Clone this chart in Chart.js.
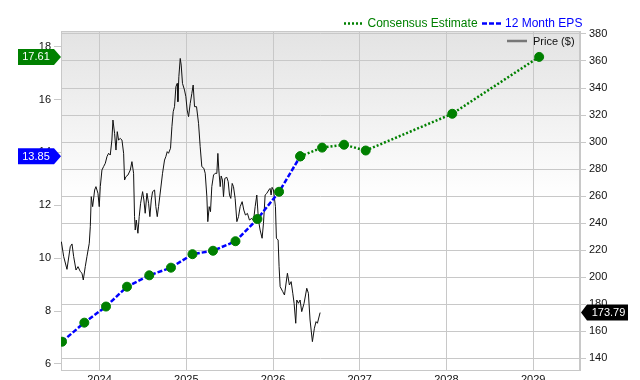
<!DOCTYPE html>
<html>
<head>
<meta charset="utf-8">
<script src="https://cdn.jsdelivr.net/npm/chart.js@4.4.1/dist/chart.umd.min.js"></script>
<style>
  html, body { margin: 0; padding: 0; background: #fff; }
  canvas { display: block; }
</style>
</head>
<body>
<canvas id="chart" width="640" height="380"></canvas>
<script>
// 12 month EPS (dates as decimal years)
const epsDates = [2023.567, 2023.824, 2024.074, 2024.316, 2024.573, 2024.823, 2025.071, 2025.308, 2025.567, 2025.820, 2026.070, 2026.314];
const epsValues = [6.84, 7.56, 8.17, 8.92, 9.35, 9.64, 10.15, 10.28, 10.64, 11.48, 12.51, 13.85];

// consensus estimate
const estDates = [2026.314, 2026.566, 2026.819, 2027.069, 2028.067, 2029.069];
const estValues = [13.85, 14.18, 14.29, 14.07, 15.46, 17.61];

// share price ($)
const priceDates = [
  2023.559, 2023.586, 2023.624, 2023.662, 2023.682, 2023.701, 2023.728, 2023.751, 2023.778, 2023.797,
  2023.812, 2023.835, 2023.854, 2023.881, 2023.893, 2023.904, 2023.920, 2023.943, 2023.958, 2023.981,
  2023.996, 2024.008, 2024.027, 2024.046, 2024.066, 2024.085, 2024.104, 2024.123, 2024.142, 2024.154,
  2024.173, 2024.189, 2024.204, 2024.219, 2024.238, 2024.258, 2024.277, 2024.288, 2024.304, 2024.327,
  2024.354, 2024.373, 2024.392, 2024.403, 2024.411, 2024.423, 2024.442, 2024.457, 2024.473, 2024.496,
  2024.511, 2024.526, 2024.546, 2024.565, 2024.580, 2024.596, 2024.611, 2024.634, 2024.649, 2024.665,
  2024.680, 2024.703, 2024.726, 2024.749, 2024.764, 2024.780, 2024.795, 2024.818, 2024.834, 2024.849,
  2024.864, 2024.880, 2024.895, 2024.903, 2024.914, 2024.930, 2024.941, 2024.956, 2024.979, 2024.995,
  2025.010, 2025.026, 2025.045, 2025.064, 2025.079, 2025.095, 2025.118, 2025.141, 2025.160, 2025.179,
  2025.202, 2025.218, 2025.237, 2025.248, 2025.264, 2025.279, 2025.294, 2025.314, 2025.333, 2025.352,
  2025.364, 2025.375, 2025.391, 2025.402, 2025.417, 2025.429, 2025.444, 2025.467, 2025.483, 2025.498,
  2025.513, 2025.529, 2025.544, 2025.563, 2025.583, 2025.602, 2025.621, 2025.644, 2025.663, 2025.682,
  2025.705, 2025.728, 2025.755, 2025.775, 2025.794, 2025.813, 2025.832, 2025.851, 2025.874, 2025.890,
  2025.909, 2025.928, 2025.951, 2025.966, 2025.978, 2025.989, 2026.005, 2026.028, 2026.039, 2026.059,
  2026.070, 2026.082, 2026.112, 2026.132, 2026.166, 2026.189, 2026.209, 2026.228, 2026.243, 2026.262,
  2026.274, 2026.293, 2026.312, 2026.331, 2026.358, 2026.389, 2026.408, 2026.427, 2026.454, 2026.477,
  2026.496, 2026.512, 2026.543
];
const priceValues = [
  226.3, 215.2, 205.8, 222.6, 224.6, 215.2, 205.3, 207.8, 204.1, 202.9,
  197.9, 207.8, 215.2, 225.1, 237.4, 259.6, 252.2, 264.5, 267.0, 262.1,
  252.2, 267.0, 279.3, 281.8, 284.3, 289.2, 291.7, 290.4, 301.5, 316.3,
  306.4, 294.1, 307.7, 301.5, 302.7, 301.5, 291.7, 271.9, 274.4, 275.6,
  279.3, 285.5, 276.9, 244.8, 234.9, 242.3, 232.5, 244.8, 254.7, 263.3,
  257.1, 247.3, 262.1, 254.7, 244.8, 257.1, 263.3, 264.5, 252.2, 244.8,
  252.2, 264.5, 276.9, 286.7, 289.2, 292.9, 291.7, 295.4, 311.4, 322.5,
  326.2, 341.0, 343.4, 329.9, 348.4, 361.9, 357.0, 343.4, 338.5, 333.6,
  323.7, 318.8, 328.6, 336.0, 342.2, 326.2, 326.2, 313.9, 296.6, 281.8,
  280.6, 276.9, 259.6, 241.1, 252.2, 248.5, 267.0, 275.6, 276.9, 276.8,
  291.6, 279.3, 267.0, 274.9, 271.9, 259.6, 273.1, 273.9, 270.7, 260.8,
  258.3, 269.4, 267.0, 258.3, 241.1, 244.8, 252.2, 255.9, 249.7, 246.0,
  247.2, 242.3, 243.5, 241.8, 252.2, 260.8, 242.3, 234.9, 228.8, 239.9,
  260.8, 262.0, 264.5, 265.7, 260.8, 266.5, 264.5, 252.2, 228.8, 227.5,
  207.8, 193.0, 189.3, 186.8, 202.9, 194.2, 196.7, 188.1, 180.7, 165.9,
  183.1, 180.7, 183.1, 174.5, 180.7, 191.8, 188.1, 168.3, 152.3, 162.2,
  167.1, 165.9, 173.79
];

const yearTicks = [2024, 2025, 2026, 2027, 2028, 2029];
const epsTicks = [6, 8, 10, 12, 14, 16, 18];
const priceTicks = [140, 160, 180, 200, 220, 240, 260, 280, 300, 320, 340, 360, 380];

const lastEps = epsValues[epsValues.length - 1];
const lastEst = estValues[estValues.length - 1];
const lastPrice = priceValues[priceValues.length - 1];

const GREEN = 'rgb(0,128,0)';
const BLUE = 'rgb(0,0,255)';
const GRID = '#c8c8c8';

Chart.defaults.font.family = '"Liberation Sans", Arial, sans-serif';
Chart.defaults.font.size = 11;
Chart.defaults.color = '#111';

const toXY = (xs, ys) => xs.map((x, i) => ({ x: x, y: ys[i] }));

const plotBackground = {
  id: 'plotBackground',
  beforeDraw(chart) {
    const { ctx, chartArea: a } = chart;
    const g = ctx.createLinearGradient(0, a.top, 0, a.bottom);
    g.addColorStop(0, '#e3e3e3');
    g.addColorStop(0.5, '#ffffff');
    g.addColorStop(1, '#ffffff');
    ctx.save();
    ctx.fillStyle = g;
    ctx.fillRect(a.left, a.top, a.right - a.left, a.bottom - a.top);
    ctx.restore();
  },
  beforeDatasetsDraw(chart) {
    const { ctx, chartArea: a } = chart;
    ctx.save();
    ctx.strokeStyle = GRID;
    ctx.lineWidth = 1;
    ctx.strokeRect(a.left + 0.5, a.top + 0.5, a.right - a.left - 1, a.bottom - a.top);
    ctx.restore();
  }
};

function drawBadge(ctx, text, y, tip, x0, x1, color) {
  const h = 16;
  ctx.save();
  ctx.fillStyle = color;
  ctx.beginPath();
  if (tip > x1) {
    ctx.moveTo(x0, y - h / 2);
    ctx.lineTo(x1, y - h / 2);
    ctx.lineTo(tip, y);
    ctx.lineTo(x1, y + h / 2);
    ctx.lineTo(x0, y + h / 2);
  } else {
    ctx.moveTo(x1, y - h / 2);
    ctx.lineTo(x0, y - h / 2);
    ctx.lineTo(tip, y);
    ctx.lineTo(x0, y + h / 2);
    ctx.lineTo(x1, y + h / 2);
  }
  ctx.closePath();
  ctx.fill();
  ctx.fillStyle = '#fff';
  ctx.font = '11px "Liberation Sans", Arial, sans-serif';
  ctx.textAlign = 'center';
  ctx.textBaseline = 'middle';
  ctx.fillText(text, tip > x1 ? (x0 + x1) / 2 : (x0 + x1) / 2 + 1, y + 0.5);
  ctx.restore();
}

const decorations = {
  id: 'decorations',
  afterDraw(chart) {
    const { ctx } = chart;
    const yE = chart.scales.yEps;
    const yP = chart.scales.yPrice;
    drawBadge(ctx, lastEst.toFixed(2), yE.getPixelForValue(lastEst), 61, 18, 54, GREEN);
    drawBadge(ctx, lastEps.toFixed(2), yE.getPixelForValue(lastEps), 61, 18, 54, BLUE);
    drawBadge(ctx, lastPrice.toFixed(2), yP.getPixelForValue(lastPrice), 581, 587, 628, '#000');

    // top legend
    ctx.save();
    ctx.font = '12px "Liberation Sans", Arial, sans-serif';
    ctx.textBaseline = 'middle';
    ctx.lineWidth = 2.5;
    ctx.strokeStyle = GREEN;
    ctx.setLineDash([2, 2]);
    ctx.beginPath(); ctx.moveTo(344, 23.5); ctx.lineTo(363, 23.5); ctx.stroke();
    ctx.fillStyle = GREEN;
    ctx.fillText('Consensus Estimate', 367.5, 23.5);
    ctx.strokeStyle = BLUE;
    ctx.setLineDash([5, 2]);
    ctx.beginPath(); ctx.moveTo(482, 23.5); ctx.lineTo(501, 23.5); ctx.stroke();
    ctx.fillStyle = BLUE;
    ctx.fillText('12 Month EPS', 505, 23.5);

    // price legend
    ctx.setLineDash([]);
    ctx.strokeStyle = '#777';
    ctx.beginPath(); ctx.moveTo(507, 41); ctx.lineTo(527, 41); ctx.stroke();
    ctx.font = '11px "Liberation Sans", Arial, sans-serif';
    ctx.fillStyle = '#111';
    ctx.fillText('Price ($)', 533, 41.5);
    ctx.restore();
  }
};

const ctx = document.getElementById('chart').getContext('2d');
const epsChart = new Chart(ctx, {
  type: 'line',
  data: {
    datasets: [
      {
        label: '12 Month EPS',
        data: toXY(epsDates, epsValues),
        yAxisID: 'yEps',
        borderColor: BLUE,
        borderWidth: 2.5,
        borderDash: [5, 2],
        pointRadius: 4.5,
        pointBackgroundColor: GREEN,
        pointBorderColor: GREEN,
        pointBorderWidth: 1
      },
      {
        label: 'Consensus Estimate',
        data: toXY(estDates, estValues),
        yAxisID: 'yEps',
        borderColor: GREEN,
        borderWidth: 2.5,
        borderDash: [2, 2],
        pointRadius: 4.5,
        pointBackgroundColor: GREEN,
        pointBorderColor: GREEN,
        pointBorderWidth: 1
      },
      {
        label: 'Price ($)',
        data: toXY(priceDates, priceValues),
        yAxisID: 'yPrice',
        borderColor: '#111',
        borderWidth: 1,
        pointRadius: 0,
        tension: 0
      }
    ]
  },
  options: {
    responsive: false,
    animation: false,
    events: [],
    layout: { padding: { top: 31, left: 0, right: 0, bottom: 0 } },
    plugins: { legend: { display: false }, tooltip: { enabled: false } },
    scales: {
      x: {
        type: 'linear',
        min: 2023.555,
        max: 2029.54,
        afterBuildTicks: s => { s.ticks = yearTicks.map(v => ({ value: v })); },
        afterFit: s => { s.height = 10; },
        ticks: { padding: 3, maxRotation: 0, callback: v => String(v) },
        grid: { color: GRID, drawTicks: false },
        border: { color: GRID }
      },
      yEps: {
        type: 'linear',
        position: 'left',
        min: 5.77,
        max: 18.59,
        afterBuildTicks: s => { s.ticks = epsTicks.map(v => ({ value: v })); },
        afterFit: s => { s.width = 61; },
        ticks: { padding: 3 },
        grid: { drawOnChartArea: false, tickLength: 7, color: GRID },
        border: { color: GRID }
      },
      yPrice: {
        type: 'linear',
        position: 'right',
        min: 131.3,
        max: 382.2,
        afterBuildTicks: s => { s.ticks = priceTicks.map(v => ({ value: v })); },
        afterFit: s => { s.width = 60; },
        ticks: { padding: 3 },
        grid: { color: GRID, tickLength: 6 },
        border: { color: GRID }
      }
    }
  },
  plugins: [plotBackground, decorations]
});
</script>
</body>
</html>
